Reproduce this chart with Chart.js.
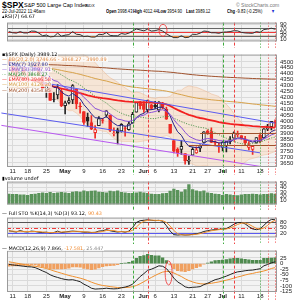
<!DOCTYPE html>
<html>
<head>
<meta charset="utf-8">
<script src="https://cdn.jsdelivr.net/npm/chart.js@4.4.0/dist/chart.umd.min.js"></script>
<style>
    body { margin: 0; width: 300px; height: 300px; overflow: hidden; background: #fff; position: relative;
           font-family: "Liberation Sans", Arial, sans-serif; }
    canvas { position: absolute; left: 0; }
    .t { position: absolute; white-space: nowrap; font-size: 5.4px; color: #000; line-height: 1;
         transform: scaleX(0.76); transform-origin: left top; }
    .lg { position: absolute; left: 1px; white-space: nowrap; font-family: "DejaVu Sans", sans-serif; font-size: 4.9px;
          line-height: 5px; background: rgba(255,255,255,0.75); padding: 0 1px; }
</style>
</head>
<body>
<div class="t" style="left:2px;top:0.5px;font-size:8.5px;font-weight:bold;transform:none">$SPX</div>
<div class="t" style="left:24px;top:2.5px;font-size:5.5px;transform:none">S&amp;P 500 Large Cap Index</div>
<div class="t" style="left:85px;top:3.5px;font-size:4px;transform:none">INDX</div>
<div class="t" style="left:236px;top:2.5px;font-size:5px;color:#777;transform:none">© StockCharts.com</div>
<div class="t" style="left:2px;top:9px;transform:scaleX(0.85)">22-Jul-2022 11:46am</div>
<div class="t" style="left:106px;top:9px"><b>Open</b> 3998.43</div>
<div class="t" style="left:133px;top:9px"><b>High</b> 4012.44</div>
<div class="t" style="left:158px;top:9px"><b>Low</b> 3954.90</div>
<div class="t" style="left:186px;top:9px"><b>Last</b> 3989.12</div>
<div class="t" style="left:227px;top:9px"><b>Chg</b> -9.83 (-0.25%)</div>
<div class="t" style="left:271px;top:9px;color:#2030d0">▼</div>

<canvas id="rsiChart" width="300" height="32" style="top:16px"></canvas>
<canvas id="priceChart" width="300" height="127" style="top:48px"></canvas>
<canvas id="volChart" width="300" height="36" style="top:175px"></canvas>
<canvas id="stoChart" width="300" height="33" style="top:211px"></canvas>
<canvas id="macdChart" width="300" height="56" style="top:244px"></canvas>

<div class="lg" style="top:13.5px;background:none">▴RSI(7) 64.67</div>
<div class="lg" style="top:51.5px">▪$SPX (Daily) 3989.12</div>
<div class="lg" style="top:56.6px;color:#e08840">— BB(20,2.0) 3746.66 - 3868.27 - 3990.89</div>
<div class="lg" style="top:61.8px;color:#2a2a90">— EMA(7) 3927.80</div>
<div class="lg" style="top:66.9px;color:#8a50d0">— EMA(13) 3897.91</div>
<div class="lg" style="top:72px;color:#2e8b2e">··· MA(20) 3868.27</div>
<div class="lg" style="top:77.2px;color:#f02020">— EMA(40) 3946.58</div>
<div class="lg" style="top:82.3px;color:#d4a048">— MA(100) 4126.20</div>
<div class="lg" style="top:87.5px;color:#a0522d">— MA(200) 4354.85</div>
<div class="lg" style="top:176px">▮volume undef</div>
<div class="lg" style="top:211px">— Full STO %K(14,3) %D(3) 93.12, <span style="color:#f08a30">90.43</span></div>
<div class="lg" style="top:246px">— MACD(12,26,9) 7.866, <span style="color:#f08a30">-17.581</span>, <span style="color:#888">25.447</span></div>

<script>
// trading days on the chart
const days = ['Apr 8','Apr 11','Apr 12','Apr 13','Apr 14','Apr 18','Apr 19','Apr 20','Apr 21','Apr 22',
    'Apr 25','Apr 26','Apr 27','Apr 28','Apr 29','May 2','May 3','May 4','May 5','May 6',
    'May 9','May 10','May 11','May 12','May 13','May 16','May 17','May 18','May 19','May 20',
    'May 23','May 24','May 25','May 26','May 27','May 31','Jun 1','Jun 2','Jun 3','Jun 6',
    'Jun 7','Jun 8','Jun 9','Jun 10','Jun 13','Jun 14','Jun 15','Jun 16','Jun 17','Jun 21',
    'Jun 22','Jun 23','Jun 24','Jun 27','Jun 28','Jun 29','Jun 30','Jul 1','Jul 5','Jul 6',
    'Jul 7','Jul 8','Jul 11','Jul 12','Jul 13','Jul 14','Jul 15','Jul 18','Jul 19','Jul 20',
    'Jul 21','Jul 22'];

const tickIdx = [1, 5, 10, 15, 20, 25, 30, 36, 39, 44, 49, 53, 57, 62, 67];
const tickText = ['11', '18', '25', 'May', '9', '16', '23', 'Jun', '6', '13', '21', '27', 'Jul', '11', '18'];
const monthIdx = [15, 36, 57];

const priceTicks = [3650, 3700, 3750, 3800, 3850, 3900, 3950, 4000, 4050, 4100, 4150, 4200, 4250, 4300, 4350, 4400, 4450, 4500];
const rsiTicks = [10, 30, 50, 70, 90];
const volTicks = [10, 20, 30, 40, 50];
const stoTicks = [20, 50, 80];
const macdTicks = [-125, -100, -75, -50, -25, 0, 25];

const opens = [4494, 4463, 4438, 4394, 4449, 4386, 4391, 4472, 4489, 4386,
    4255, 4278, 4187, 4223, 4254, 4131, 4160, 4181, 4270, 4128,
    4081, 4035, 3990, 3904, 3964, 4013, 4052, 4052, 3899, 3928,
    3919, 3943, 3930, 3985, 4077, 4151, 4150, 4095, 4138, 4135,
    4096, 4147, 4102, 3974, 3838, 3764, 3764, 3728, 3666, 3715,
    3734, 3775, 3822, 3921, 3913, 3825, 3786, 3781, 3793, 3832,
    3859, 3888, 3881, 3852, 3780, 3764, 3818, 3884, 3861, 3935,
    3955, 3998];
const highs = [4520, 4464, 4471, 4454, 4460, 4410, 4471, 4488, 4513, 4386,
    4299, 4278, 4241, 4308, 4270, 4170, 4200, 4308, 4270, 4158,
    4081, 4069, 4049, 3965, 4039, 4026, 4091, 4052, 3946, 3943,
    3982, 3956, 3999, 4075, 4158, 4168, 4167, 4178, 4143, 4169,
    4165, 4160, 4119, 3974, 3838, 3778, 3838, 3728, 3708, 3780,
    3786, 3803, 3914, 3928, 3946, 3837, 3819, 3830, 3832, 3871,
    3911, 3919, 3881, 3873, 3829, 3796, 3864, 3902, 3940, 3974,
    3999, 4012];
const lows = [4475, 4408, 4381, 4393, 4391, 4370, 4391, 4449, 4384, 4268,
    4201, 4175, 4163, 4189, 4124, 4063, 4147, 4149, 4106, 4068,
    3975, 3958, 3929, 3859, 3964, 3984, 4034, 3912, 3877, 3810,
    3909, 3875, 3925, 3985, 4077, 4105, 4074, 4074, 4099, 4109,
    4080, 4107, 4017, 3900, 3734, 3706, 3722, 3640, 3637, 3715,
    3730, 3744, 3822, 3890, 3820, 3799, 3739, 3752, 3742, 3809,
    3859, 3869, 3847, 3802, 3759, 3722, 3817, 3819, 3861, 3922,
    3928, 3955];
const closes = [4488, 4413, 4397, 4447, 4393, 4392, 4462, 4459, 4394, 4272,
    4296, 4175, 4184, 4288, 4132, 4155, 4175, 4300, 4147, 4123,
    3991, 4001, 3935, 3930, 4024, 4008, 4089, 3924, 3901, 3901,
    3974, 3941, 3979, 4058, 4158, 4132, 4101, 4177, 4109, 4121,
    4161, 4116, 4018, 3901, 3750, 3735, 3790, 3667, 3675, 3765,
    3760, 3796, 3912, 3900, 3822, 3819, 3785, 3825, 3831, 3845,
    3903, 3899, 3854, 3819, 3802, 3790, 3863, 3831, 3937, 3960,
    3999, 3989];

const ema7 = [4505, 4482, 4460, 4457, 4441, 4429, 4437, 4443, 4430, 4391,
    4367, 4319, 4285, 4286, 4248, 4224, 4212, 4234, 4212, 4190,
    4140, 4105, 4063, 4030, 4028, 4023, 4040, 4011, 3983, 3963,
    3966, 3959, 3964, 3988, 4030, 4056, 4067, 4095, 4098, 4104,
    4118, 4118, 4093, 4045, 3971, 3912, 3882, 3828, 3790, 3784,
    3778, 3782, 3815, 3836, 3833, 3829, 3818, 3820, 3823, 3828,
    3847, 3860, 3858, 3849, 3837, 3825, 3835, 3834, 3860, 3885,
    3913, 3928];
const ema13 = [4498, 4486, 4473, 4470, 4459, 4449, 4451, 4452, 4444, 4419,
    4402, 4369, 4343, 4335, 4306, 4284, 4269, 4273, 4255, 4236,
    4201, 4173, 4139, 4109, 4097, 4084, 4085, 4062, 4039, 4019,
    4013, 4003, 3999, 4008, 4029, 4044, 4052, 4070, 4075, 4082,
    4093, 4097, 4085, 4059, 4015, 3975, 3948, 3908, 3875, 3859,
    3845, 3838, 3849, 3856, 3851, 3847, 3838, 3836, 3835, 3837,
    3846, 3854, 3854, 3849, 3842, 3835, 3839, 3838, 3852, 3867,
    3886, 3898];
const ma20 = [4481, 4493, 4500, 4504, 4504, 4500, 4500, 4497, 4494, 4482,
    4470, 4449, 4427, 4411, 4391, 4372, 4351, 4340, 4324, 4305,
    4280, 4259, 4236, 4210, 4192, 4173, 4154, 4127, 4103, 4084,
    4068, 4056, 4046, 4034, 4036, 4035, 4031, 4025, 4023, 4023,
    4031, 4037, 4041, 4040, 4026, 4012, 3997, 3985, 3973, 3966,
    3956, 3949, 3945, 3937, 3920, 3905, 3889, 3871, 3858, 3844,
    3831, 3820, 3812, 3808, 3810, 3813, 3817, 3825, 3838, 3848,
    3860, 3868];
const ema40 = [4390, 4383, 4376, 4369, 4362, 4354, 4347, 4340, 4331, 4322,
    4311, 4300, 4292, 4284, 4276, 4268, 4260, 4254, 4246, 4238,
    4228, 4219, 4211, 4204, 4200, 4195, 4191, 4186, 4181, 4176,
    4172, 4168, 4165, 4163, 4162, 4162, 4160, 4159, 4157, 4155,
    4153, 4150, 4143, 4130, 4112, 4096, 4082, 4068, 4055, 4046,
    4036, 4028, 4022, 4015, 4008, 4001, 3994, 3988, 3983, 3978,
    3975, 3972, 3969, 3966, 3963, 3960, 3958, 3955, 3953, 3951,
    3949, 3947];
const ma100 = [4497, 4493, 4489, 4485, 4480, 4476, 4472, 4469, 4465, 4459,
    4453, 4446, 4440, 4435, 4428, 4421, 4415, 4410, 4402, 4395,
    4386, 4378, 4369, 4360, 4353, 4345, 4339, 4330, 4321, 4313,
    4306, 4299, 4293, 4288, 4285, 4281, 4277, 4274, 4270, 4266,
    4263, 4259, 4254, 4247, 4239, 4231, 4224, 4216, 4208, 4202,
    4196, 4191, 4188, 4185, 4181, 4178, 4175, 4172, 4169, 4166,
    4164, 4161, 4158, 4154, 4150, 4146, 4143, 4139, 4136, 4133,
    4130, 4126];
const ma200 = [4488, 4487, 4486, 4485, 4484, 4483, 4482, 4482, 4481, 4479,
    4478, 4476, 4475, 4474, 4472, 4470, 4469, 4468, 4466, 4464,
    4462, 4459, 4457, 4455, 4453, 4451, 4449, 4446, 4443, 4441,
    4439, 4437, 4435, 4433, 4432, 4430, 4428, 4426, 4424, 4422,
    4421, 4419, 4416, 4413, 4410, 4406, 4403, 4399, 4395, 4392,
    4389, 4386, 4384, 4381, 4379, 4377, 4375, 4373, 4371, 4369,
    4368, 4366, 4365, 4363, 4362, 4360, 4359, 4358, 4357, 4356,
    4355, 4355];
const bbUpper = [4721, 4728, 4732, 4732, 4726, 4715, 4710, 4702, 4692, 4682,
    4665, 4664, 4657, 4643, 4641, 4632, 4613, 4590, 4579, 4567,
    4560, 4544, 4526, 4495, 4457, 4428, 4394, 4367, 4348, 4329,
    4303, 4281, 4261, 4239, 4246, 4240, 4226, 4210, 4198, 4193,
    4201, 4202, 4201, 4210, 4241, 4262, 4262, 4285, 4298, 4291,
    4286, 4274, 4260, 4247, 4230, 4220, 4209, 4171, 4143, 4109,
    4066, 4030, 3992, 3958, 3940, 3938, 3937, 3940, 3958, 3973,
    3985, 3991];
const bbLower = [4241, 4258, 4268, 4276, 4282, 4285, 4290, 4292, 4296, 4282,
    4275, 4234, 4197, 4179, 4141, 4112, 4089, 4090, 4069, 4043,
    4000, 3974, 3946, 3925, 3927, 3918, 3914, 3887, 3858, 3839,
    3833, 3831, 3831, 3829, 3826, 3830, 3836, 3840, 3848, 3853,
    3861, 3872, 3881, 3870, 3811, 3762, 3732, 3685, 3648, 3641,
    3626, 3624, 3630, 3627, 3610, 3590, 3569, 3571, 3573, 3579,
    3596, 3610, 3632, 3658, 3680, 3688, 3697, 3710, 3718, 3723,
    3735, 3747];

const rsi = [52, 46, 44, 52, 45, 45, 55, 54, 44, 30,
    34, 24, 26, 44, 28, 33, 36, 52, 38, 36,
    26, 28, 23, 23, 38, 36, 47, 32, 30, 30,
    42, 38, 44, 55, 66, 61, 56, 65, 55, 57,
    63, 55, 41, 29, 20, 20, 30, 20, 22, 38,
    37, 44, 55, 53, 46, 46, 43, 49, 50, 52,
    57, 56, 48, 45, 44, 43, 52, 48, 63, 66,
    70, 65];
const volume = [25, 24, 24, 23, 23, 22, 24, 25, 27, 28,
    27, 29, 27, 28, 29, 28, 27, 30, 31, 30,
    33, 31, 32, 33, 30, 29, 28, 32, 31, 33,
    29, 28, 27, 27, 28, 30, 28, 27, 25, 24,
    24, 26, 27, 32, 37, 34, 30, 36, 48, 36,
    33, 31, 33, 28, 27, 25, 24, 22, 24, 23,
    22, 21, 23, 24, 24, 25, 24, 23, 24, 24,
    26, 25];
const stoK = [32, 28, 25, 33, 27, 25, 30, 28, 24, 22,
    24, 20, 22, 30, 22, 25, 28, 30, 28, 27,
    24, 24, 22, 23, 30, 32, 38, 32, 28, 25,
    28, 24, 30, 50, 78, 88, 90, 93, 90, 88,
    90, 85, 60, 30, 10, 8, 10, 8, 9, 12,
    15, 20, 28, 32, 36, 38, 40, 42, 44, 55,
    68, 77, 78, 70, 55, 42, 38, 42, 62, 82,
    95, 93];
const stoD = [30, 30, 28, 29, 28, 28, 27, 28, 27, 25,
    23, 22, 22, 24, 25, 26, 25, 28, 29, 28,
    26, 25, 23, 23, 25, 28, 33, 34, 33, 28,
    27, 26, 27, 35, 53, 72, 85, 90, 91, 90,
    89, 88, 78, 58, 33, 16, 9, 9, 9, 10,
    12, 16, 21, 27, 32, 35, 38, 40, 42, 47,
    56, 67, 74, 75, 68, 56, 45, 41, 47, 62,
    80, 90];
const macd = [-4, -6, -8, -10, -12, -14, -15, -18, -25, -33,
    -40, -50, -57, -62, -67, -71, -73, -72, -76, -81,
    -92, -100, -110, -114, -113, -112, -110, -112, -113, -112,
    -108, -105, -100, -92, -75, -58, -45, -30, -25, -18,
    -10, -12, -22, -42, -65, -82, -92, -104, -108, -106,
    -105, -103, -94, -88, -80, -72, -68, -62, -56, -49,
    -42, -37, -35, -32, -30, -29, -26, -23, -10, -4,
    3, 8];
const macdSignal = [8, 5, 2, -1, -4, -7, -10, -12, -15, -18,
    -22, -27, -33, -38, -43, -48, -53, -57, -61, -65,
    -70, -76, -83, -89, -94, -98, -100, -103, -105, -107,
    -108, -107, -106, -103, -98, -90, -81, -71, -62, -53,
    -45, -38, -35, -36, -42, -50, -58, -68, -76, -82,
    -87, -90, -91, -90, -88, -85, -82, -78, -74, -70,
    -65, -60, -56, -51, -47, -44, -40, -37, -33, -28,
    -22, -18];
const macdHist = [-12, -11, -10, -9, -8, -7, -5, -6, -10, -15,
    -18, -23, -24, -24, -24, -23, -20, -15, -15, -16,
    -22, -24, -27, -25, -19, -14, -10, -9, -8, -5,
    0, 2, 6, 11, 23, 32, 36, 41, 37, 35,
    35, 26, 13, -6, -23, -32, -34, -36, -32, -24,
    -18, -13, -3, 2, 8, 13, 14, 16, 18, 21,
    23, 23, 21, 19, 17, 15, 14, 14, 23, 24,
    25, 26];

// drawn trend lines: [day, price]
const trendLines = [
    { from: [9, 4325], to: [71, 3985], color: '#5c5cf0' },
    { from: [-2, 4070], to: [67, 3735], color: '#5c5cf0' },
    { from: [-2, 3966], to: [67, 3621], color: '#b858f0' }
];
const flatLines = [
    { from: 48, to: 71, value: 3800 },
    { from: 51, to: 71, value: 3905 }
];
// signal markers
const buyDays = [33, 57, 67];
const sellDays = [37, 60, 69, 71];

const FONT = 'Liberation Sans';
const RED = '#ee2a24';

const panelBg = {
    id: 'panelBg',
    beforeDraw(chart) {
        const { ctx, chartArea: a } = chart;
        ctx.save();
        ctx.fillStyle = '#f3f3f3';
        ctx.fillRect(a.left, a.top, a.width, a.height);
        ctx.restore();
    },
    afterDraw(chart) {
        const { ctx, chartArea: a } = chart;
        ctx.save();
        ctx.strokeStyle = '#9a9a9a';
        ctx.lineWidth = 1;
        ctx.strokeRect(a.left + 0.5, a.top + 0.5, a.width - 1, a.height - 1);
        ctx.restore();
    }
};

const signals = {
    id: 'signals',
    afterDatasetsDraw(chart) {
        const { ctx, chartArea: a, scales } = chart;
        const draw = (d, color) => {
            const x = Math.round(scales.x.getPixelForValue(d)) + 0.5;
            ctx.strokeStyle = color;
            ctx.setLineDash(d >= 67 ? [1, 2] : [3, 2]);
            ctx.beginPath();
            ctx.moveTo(x, a.top);
            ctx.lineTo(x, chart.height);
            ctx.stroke();
        };
        ctx.save();
        ctx.lineWidth = 1;
        buyDays.forEach(d => draw(d, '#3caa3c'));
        sellDays.forEach(d => draw(d, '#f04040'));
        ctx.restore();
    }
};

function levels(list) {
    return {
        id: 'levels',
        beforeDatasetsDraw(chart) {
            const { ctx, chartArea: a, scales } = chart;
            ctx.save();
            list.forEach(l => {
                const y = Math.round(scales.y.getPixelForValue(l.v)) + 0.5;
                ctx.strokeStyle = l.color;
                ctx.lineWidth = 1;
                ctx.setLineDash(l.dash || []);
                ctx.beginPath();
                ctx.moveTo(a.left, y);
                ctx.lineTo(a.right, y);
                ctx.stroke();
            });
            ctx.restore();
        }
    };
}

function ellipse(day, value, rx, ry) {
    return {
        id: 'ellipse',
        afterDatasetsDraw(chart) {
            const { ctx, scales } = chart;
            ctx.save();
            ctx.strokeStyle = '#f03030';
            ctx.lineWidth = 0.8;
            ctx.beginPath();
            ctx.ellipse(scales.x.getPixelForValue(day), scales.y.getPixelForValue(value), rx, ry, 0, 0, Math.PI * 2);
            ctx.stroke();
            ctx.restore();
        }
    };
}

const drawnLines = {
    id: 'drawnLines',
    afterDatasetsDraw(chart) {
        const { ctx, chartArea: a, scales: { x, y } } = chart;
        ctx.save();
        ctx.beginPath();
        ctx.rect(0, a.top, a.right, a.height);
        ctx.clip();
        ctx.lineWidth = 1;
        trendLines.forEach(t => {
            ctx.strokeStyle = t.color;
            ctx.beginPath();
            ctx.moveTo(x.getPixelForValue(t.from[0]), y.getPixelForValue(t.from[1]));
            ctx.lineTo(x.getPixelForValue(t.to[0]), y.getPixelForValue(t.to[1]));
            ctx.stroke();
        });
        ctx.strokeStyle = '#a0522d';
        flatLines.forEach(f => {
            const py = Math.round(y.getPixelForValue(f.value)) + 0.5;
            ctx.beginPath();
            ctx.moveTo(x.getPixelForValue(f.from), py);
            ctx.lineTo(x.getPixelForValue(f.to) + 2, py);
            ctx.stroke();
        });
        ctx.restore();
    }
};

function xScale(showLabels) {
    return {
        offset: true,
        grid: { color: '#dadada', offset: false, drawTicks: false, lineWidth: 1 },
        border: { display: false },
        afterBuildTicks: ax => { ax.ticks = tickIdx.map(v => ({ value: v })); },
        ticks: {
            display: showLabels, autoSkip: false, maxRotation: 0, padding: 1, color: '#222',
            font: c => ({ size: 6, family: FONT, weight: c.tick && monthIdx.includes(c.tick.value) ? 'bold' : 'normal' }),
            callback: v => tickText[tickIdx.indexOf(v)]
        },
        afterFit: ax => { ax.height = showLabels ? 8 : 0; }
    };
}

function yScale(min, max, ticksArr) {
    return {
        position: 'right', min: min, max: max,
        grid: { color: '#dadada', drawTicks: false, lineWidth: 1 },
        border: { display: false },
        afterBuildTicks: ax => { ax.ticks = ticksArr.map(v => ({ value: v })); },
        ticks: { padding: 3, color: '#222', autoSkip: false, font: { size: 6, family: FONT }, callback: v => String(v) },
        afterFit: ax => { ax.width = 23; }
    };
}

function baseOptions(x, y) {
    return {
        responsive: false,
        animation: false,
        events: [],
        layout: { padding: { left: 7, right: 0, top: 0, bottom: 0 } },
        plugins: { legend: { display: false }, tooltip: { enabled: false } },
        scales: { x: x, y: y }
    };
}

function lineSet(data, color, width, extra) {
    return Object.assign({ type: 'line', data: data, borderColor: color, borderWidth: width,
        pointRadius: 0, fill: false, tension: 0 }, extra || {});
}

// RSI
new Chart(document.getElementById('rsiChart'), {
    type: 'line',
    data: {
        labels: days,
        datasets: [lineSet(rsi, '#333', 1, {
            fill: { target: { value: 30 }, above: 'rgba(0,0,0,0)', below: '#e8863a' }
        })]
    },
    options: baseOptions(xScale(false), yScale(0, 100, rsiTicks)),
    plugins: [panelBg, levels([{ v: 70, color: '#666' }, { v: 50, color: '#f03a3a' }, { v: 30, color: '#666' }]),
        signals, ellipse(41.1, 59, 4, 6)]
});

// price
const candleColor = closes.map((c, i) => (i > 0 ? c >= closes[i - 1] : false) ? '#222' : RED);
new Chart(document.getElementById('priceChart'), {
    type: 'bar',
    data: {
        labels: days,
        datasets: [
            lineSet(bbUpper, 'rgba(235,180,140,0.8)', 0.6, { fill: '+1', backgroundColor: 'rgba(250,212,180,0.45)', order: 10 }),
            lineSet(bbLower, 'rgba(235,180,140,0.8)', 0.6, { order: 10 }),
            {
                data: lows.map((v, i) => [v, highs[i]]),
                backgroundColor: candleColor, barThickness: 1, grouped: false, order: 6
            },
            {
                data: opens.map((v, i) => [v, closes[i]]),
                backgroundColor: closes.map((c, i) => c >= opens[i] ? '#ffffff' : candleColor[i]),
                borderColor: candleColor, borderWidth: 1, borderSkipped: false,
                barThickness: 3, grouped: false, order: 5
            },
            lineSet(ma200, '#a0522d', 1, { order: 3 }),
            lineSet(ma100, '#d8a24a', 1, { order: 3 }),
            lineSet(ema40, '#f22020', 1.8, { order: 2 }),
            lineSet(ma20, '#3f8f3f', 1, { borderDash: [1, 1.5], order: 2 }),
            lineSet(ema13, '#8a50d8', 1, { order: 1 }),
            lineSet(ema7, '#24248a', 1, { order: 1 })
        ]
    },
    options: baseOptions(xScale(true), yScale(3616, 4561, priceTicks)),
    plugins: [panelBg, drawnLines, signals]
});

// volume
new Chart(document.getElementById('volChart'), {
    type: 'bar',
    data: {
        labels: days,
        datasets: [{ data: volume, backgroundColor: '#5a935a', barThickness: 2.6 }]
    },
    options: baseOptions(xScale(false), yScale(0, 55, volTicks)),
    plugins: [panelBg, signals]
});

// full stochastics
new Chart(document.getElementById('stoChart'), {
    type: 'line',
    data: {
        labels: days,
        datasets: [lineSet(stoD, '#f0902e', 1), lineSet(stoK, '#222', 1)]
    },
    options: baseOptions(xScale(false), yScale(-5, 105, stoTicks)),
    plugins: [panelBg, levels([{ v: 80, color: '#555' }, { v: 50, color: '#f03a3a', dash: [4, 2, 1, 2] }, { v: 20, color: '#5a5af0' }]),
        signals]
});

// MACD
new Chart(document.getElementById('macdChart'), {
    type: 'bar',
    data: {
        labels: days,
        datasets: [
            { data: macdHist, backgroundColor: macdHist.map(v => v >= 0 ? '#4f8a4f' : '#f0a060'), barThickness: 2.6, order: 3 },
            lineSet(macdSignal, '#f0902e', 1, { order: 2 }),
            lineSet(macd, '#222', 1, { order: 1 })
        ]
    },
    options: baseOptions(xScale(true), yScale(-127, 58, macdTicks)),
    plugins: [panelBg, signals, ellipse(42.6, -42, 3.5, 12)]
});
</script>
</body>
</html>
